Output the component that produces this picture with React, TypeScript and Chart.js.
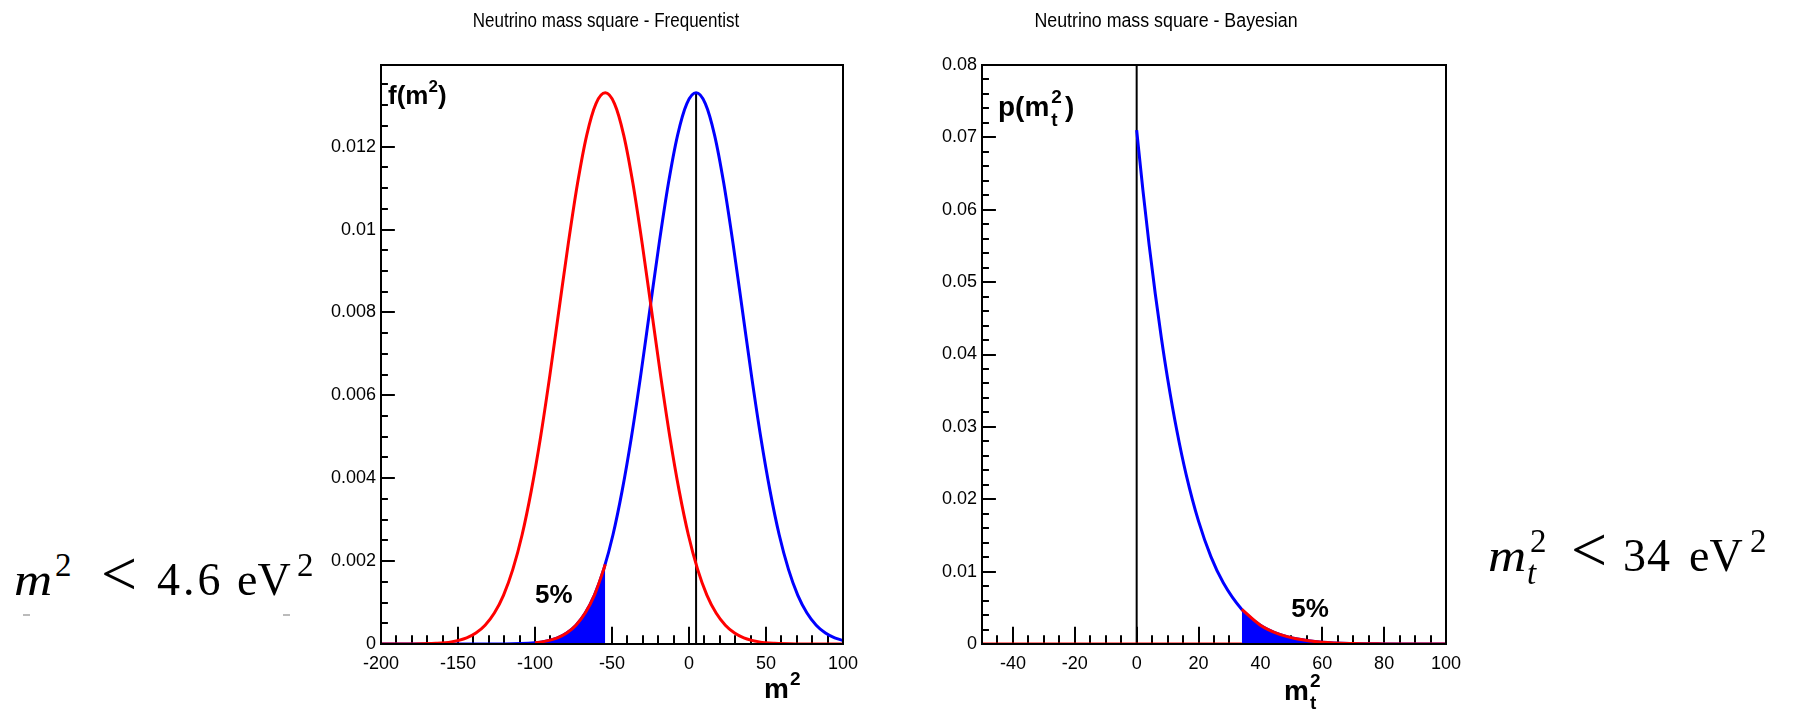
import React, { useEffect, useRef } from 'react';
import { Chart, registerables } from 'chart.js';

Chart.register(...registerables);

const SANS = '"Liberation Sans", Arial, Helvetica, sans-serif';
const SERIF = '"Liberation Serif", "Times New Roman", serif';

// ---------------- Frequentist panel ----------------
const freqXTicks = [-200, -150, -100, -50, 0, 50, 100];
const freqXLabels = ['-200', '-150', '-100', '-50', '0', '50', '100'];
const freqYTicks = [0, 0.002, 0.004, 0.006, 0.008, 0.01, 0.012];
const freqYLabels = ['0', '0.002', '0.004', '0.006', '0.008', '0.01', '0.012'];

// blue curve: pdf centred on the upper limit
const freqBlueX = [-200, -150, -120, -100, -95.4, -85.4, -79.4, -73.4, -67.4, -61.4, -55.4, -49.4, -43.4, -37.4, -31.4, -25.4, -19.4, -13.4, -7.4, -1.4, 4.6, 10.6, 16.6, 22.6, 28.6, 34.6, 40.6, 46.6, 52.6, 58.6, 64.6, 70.6, 76.6, 82.6, 88.6, 94.6, 100];
const freqBlueY = [0, 0, 0.0000024, 0.0000305, 0.0000513, 0.000148, 0.000264, 0.000453, 0.000747, 0.00118, 0.0018, 0.00263, 0.0037, 0.00499, 0.00647, 0.00807, 0.00966, 0.01111, 0.01228, 0.01304, 0.0133, 0.01304, 0.01228, 0.01111, 0.00966, 0.00807, 0.00647, 0.00499, 0.0037, 0.00263, 0.0018, 0.00118, 0.000747, 0.000453, 0.000264, 0.000148, 0.0000847];

// red curve: pdf centred on the measured value
const freqRedX = [-200, -179.4, -164.4, -154.4, -144.4, -138.4, -132.4, -126.4, -120.4, -114.4, -108.4, -102.4, -96.4, -90.4, -84.4, -78.4, -72.4, -66.4, -60.4, -54.4, -48.4, -42.4, -36.4, -30.4, -24.4, -18.4, -12.4, -6.4, -0.4, 5.6, 11.6, 17.6, 23.6, 29.6, 35.6, 45.6, 55.6, 70.6, 90.6, 100];
const freqRedY = [0, 0.0000023, 0.0000161, 0.0000513, 0.000148, 0.000264, 0.000453, 0.000747, 0.00118, 0.0018, 0.00263, 0.0037, 0.00499, 0.00647, 0.00807, 0.00966, 0.01111, 0.01228, 0.01304, 0.0133, 0.01304, 0.01228, 0.01111, 0.00966, 0.00807, 0.00647, 0.00499, 0.0037, 0.00263, 0.0018, 0.00118, 0.000747, 0.000453, 0.000264, 0.000148, 0.0000513, 0.0000161, 0.0000023, 0.0000001, 0];

// shaded 5% tail of the blue curve
const freqFillX = [-100, -95.4, -85.4, -79.4, -73.4, -67.4, -61.4, -55.4, -54.4];
const freqFillY = [0.0000305, 0.0000513, 0.000148, 0.000264, 0.000453, 0.000747, 0.00118, 0.0018, 0.00192];

const freqLineX = [4.6, 4.6];
const freqLineY = [0, 0.0133];

// ---------------- Bayesian panel ----------------
const bayesXTicks = [-40, -20, 0, 20, 40, 60, 80, 100];
const bayesXLabels = ['-40', '-20', '0', '20', '40', '60', '80', '100'];
const bayesYTicks = [0, 0.01, 0.02, 0.03, 0.04, 0.05, 0.06, 0.07, 0.08];
const bayesYLabels = ['0', '0.01', '0.02', '0.03', '0.04', '0.05', '0.06', '0.07', '0.08'];

const bayesPostX = [0, 2, 4, 6, 8, 10, 13, 16, 20, 24, 28, 34, 40, 46, 52, 60, 70, 80, 90, 100];
const bayesPostY = [0.071, 0.06278, 0.05526, 0.04842, 0.04225, 0.0367, 0.02946, 0.02341, 0.01697, 0.01208, 0.00846, 0.00478, 0.0026, 0.00136, 0.000682, 0.000255, 0.0000678, 0.0000161, 0.0000034, 0.0000006];

const bayesTailX = [34, 40, 46, 52, 60, 70, 80, 90, 100];
const bayesTailY = [0.00478, 0.0026, 0.00136, 0.000682, 0.000255, 0.0000678, 0.0000161, 0.0000034, 0.0000006];

const bayesZeroX = [-50, 34];
const bayesZeroY = [0, 0];

const bayesLineX = [0, 0];
const bayesLineY = [0, 0.08];

const toPts = (xs: number[], ys: number[]) => xs.map((x, i) => ({ x, y: ys[i] }));

interface RichPart { t: string; size: number; dy?: number; stack?: boolean; gap?: number }
interface Deco {
  title: string;
  titleX: number;
  titleY: number;
  titleSize: number;
  titleScale: number;
  xMin: number; xMax: number; xMinorStep: number;
  yMin: number; yMax: number; yMinorStep: number;
  xMajor: number[]; yMajor: number[];
  yLabel: { x: number; y: number; parts: RichPart[] };
  xLabel: { x: number; y: number; parts: RichPart[] };
  note: { x: number; y: number; text: string };
}

function drawRich(ctx: CanvasRenderingContext2D, x: number, y: number, parts: RichPart[]) {
  let cx = x;
  let stackStart = x;
  let stackW = 0;
  ctx.textAlign = 'left';
  ctx.textBaseline = 'alphabetic';
  for (const p of parts) {
    ctx.font = `bold ${p.size}px ${SANS}`;
    const w = ctx.measureText(p.t).width;
    if (p.stack) {
      ctx.fillText(p.t, stackStart, y + (p.dy || 0));
      stackW = Math.max(stackW, w);
      cx = stackStart + stackW;
    } else {
      cx += p.gap || 0;
      ctx.fillText(p.t, cx, y + (p.dy || 0));
      stackStart = cx;
      stackW = w;
      cx += w;
    }
  }
}

function rootPlugin(d: Deco) {
  return {
    id: 'rootStyle',
    beforeDatasetsDraw(chart: any) {
      const { ctx, chartArea: a, scales } = chart;
      const xs = scales.x;
      const ys = scales.y;
      const xMajLen = 0.03 * (a.bottom - a.top);
      const yMajLen = 0.03 * (a.right - a.left);
      ctx.save();
      ctx.strokeStyle = '#000';
      ctx.lineWidth = 2;
      ctx.beginPath();
      const nx = Math.round((d.xMax - d.xMin) / d.xMinorStep);
      for (let i = 0; i <= nx; i++) {
        const v = d.xMin + i * d.xMinorStep;
        const isMajor = d.xMajor.some((m) => Math.abs(m - v) < 1e-9);
        const px = Math.round(xs.getPixelForValue(v));
        ctx.moveTo(px, a.bottom);
        ctx.lineTo(px, a.bottom - (isMajor ? xMajLen : xMajLen / 2));
      }
      const ny = Math.floor((d.yMax - d.yMin) / d.yMinorStep + 1e-6);
      for (let i = 0; i <= ny; i++) {
        const v = d.yMin + i * d.yMinorStep;
        const isMajor = d.yMajor.some((m) => Math.abs(m - v) < 1e-9);
        const py = Math.round(ys.getPixelForValue(v));
        ctx.moveTo(a.left, py);
        ctx.lineTo(a.left + (isMajor ? yMajLen : yMajLen / 2), py);
      }
      ctx.stroke();
      ctx.restore();
    },
    afterDatasetsDraw(chart: any) {
      const { ctx, chartArea: a } = chart;
      ctx.save();
      ctx.strokeStyle = '#000';
      ctx.lineWidth = 2;
      ctx.strokeRect(a.left, a.top, a.right - a.left, a.bottom - a.top);
      ctx.restore();
    },
    afterDraw(chart: any) {
      const { ctx, scales } = chart;
      ctx.save();
      ctx.fillStyle = '#000';
      ctx.save();
      ctx.font = `${d.titleSize}px ${SANS}`;
      ctx.textAlign = 'center';
      ctx.textBaseline = 'alphabetic';
      ctx.translate(d.titleX, d.titleY);
      ctx.scale(d.titleScale, 1);
      ctx.fillText(d.title, 0, 0);
      ctx.restore();
      drawRich(ctx, d.yLabel.x, d.yLabel.y, d.yLabel.parts);
      drawRich(ctx, d.xLabel.x, d.xLabel.y, d.xLabel.parts);
      ctx.font = `bold 26px ${SANS}`;
      ctx.textAlign = 'left';
      ctx.textBaseline = 'alphabetic';
      ctx.fillText(d.note.text, scales.x.getPixelForValue(d.note.x), scales.y.getPixelForValue(d.note.y));
      ctx.restore();
    },
  };
}

function lineDs(data: any[], color: string, order: number, width = 3, extra: any = {}) {
  return {
    data,
    borderColor: color,
    backgroundColor: color,
    borderWidth: width,
    pointRadius: 0,
    pointHoverRadius: 0,
    cubicInterpolationMode: 'monotone',
    fill: false,
    order,
    ...extra,
  };
}

function makeConfig(opts: {
  datasets: any[];
  xMin: number; xMax: number; yMin: number; yMax: number;
  xTicks: number[]; xLabels: string[]; yTicks: number[]; yLabels: string[];
  yWidth: number; padRight: number; deco: Deco;
}) {
  const font = { family: SANS, size: 18 };
  return {
    type: 'line',
    data: { datasets: opts.datasets },
    options: {
      animation: false,
      responsive: false,
      devicePixelRatio: 1,
      events: [],
      layout: { padding: { left: 0, right: opts.padRight, top: 65, bottom: 18 } },
      plugins: { legend: { display: false }, title: { display: false }, tooltip: { enabled: false } },
      scales: {
        x: {
          type: 'linear',
          min: opts.xMin,
          max: opts.xMax,
          grid: { display: false, drawTicks: false },
          border: { display: false },
          ticks: {
            font,
            color: '#000',
            padding: 9,
            maxRotation: 0,
            autoSkip: false,
            callback: (_v: any, i: number) => opts.xLabels[i],
          },
          afterBuildTicks: (s: any) => { s.ticks = opts.xTicks.map((v) => ({ value: v })); },
          afterFit: (s: any) => { s.height = 50; },
        },
        y: {
          type: 'linear',
          min: opts.yMin,
          max: opts.yMax,
          grid: { display: false, drawTicks: false },
          border: { display: false },
          ticks: {
            font,
            color: '#000',
            padding: 5,
            autoSkip: false,
            callback: (_v: any, i: number) => opts.yLabels[i],
          },
          afterBuildTicks: (s: any) => { s.ticks = opts.yTicks.map((v) => ({ value: v })); },
          afterFit: (s: any) => { s.width = opts.yWidth; },
        },
      },
    },
    plugins: [rootPlugin(opts.deco)],
  } as any;
}

const freqDeco: Deco = {
  title: 'Neutrino mass square - Frequentist',
  titleX: 316,
  titleY: 27,
  titleSize: 20,
  titleScale: 0.85,
  xMin: -200, xMax: 100, xMinorStep: 10,
  yMin: 0, yMax: 0.01397, yMinorStep: 0.0005,
  xMajor: freqXTicks,
  yMajor: freqYTicks,
  yLabel: { x: 98, y: 104, parts: [{ t: 'f(m', size: 26 }, { t: '2', size: 17, dy: -12 }, { t: ')', size: 26 }] },
  xLabel: { x: 474, y: 698, parts: [{ t: 'm', size: 28 }, { t: '2', size: 19, dy: -13, gap: 1 }] },
  note: { x: -100, y: 0.001, text: '5%' },
};

const bayesDeco: Deco = {
  title: 'Neutrino mass square - Bayesian',
  titleX: 266,
  titleY: 27,
  titleSize: 20,
  titleScale: 0.89,
  xMin: -50, xMax: 100, xMinorStep: 5,
  yMin: 0, yMax: 0.08, yMinorStep: 0.002,
  xMajor: bayesXTicks,
  yMajor: bayesYTicks,
  yLabel: { x: 98, y: 116, parts: [{ t: 'p(m', size: 28 }, { t: '2', size: 19, dy: -13, gap: 2 }, { t: 't', size: 19, dy: 10, stack: true }, { t: ')', size: 28, gap: 3 }] },
  xLabel: { x: 384, y: 700, parts: [{ t: 'm', size: 28 }, { t: '2', size: 19, dy: -13, gap: 1 }, { t: 't', size: 19, dy: 9, stack: true }] },
  note: { x: 50, y: 0.0037, text: '5%' },
};

const Tok = ({ x, base, size, italic, spacing, sx, children }: any) => (
  <span
    style={{
      position: 'absolute',
      left: x,
      top: base - 0.8375 * size,
      fontFamily: SERIF,
      fontSize: size,
      lineHeight: `${size}px`,
      fontStyle: italic ? 'italic' : 'normal',
      letterSpacing: spacing || 0,
      whiteSpace: 'nowrap',
      color: '#000',
      transform: sx ? `scaleX(${sx})` : undefined,
      transformOrigin: 'left center',
    }}
  >
    {children}
  </span>
);

export default function App() {
  const leftRef = useRef<HTMLCanvasElement>(null);
  const rightRef = useRef<HTMLCanvasElement>(null);

  useEffect(() => {
    const left = new Chart(
      leftRef.current as HTMLCanvasElement,
      makeConfig({
        datasets: [
          lineDs(toPts(freqFillX, freqFillY), '#ff0000', 0, 3, { fill: 'origin', backgroundColor: '#0000ff' }),
          lineDs(toPts(freqRedX, freqRedY), '#ff0000', 1),
          lineDs(toPts(freqBlueX, freqBlueY), '#0000ff', 2),
          lineDs(toPts(freqLineX, freqLineY), '#000000', 3, 2, { cubicInterpolationMode: 'default', tension: 0 }),
        ],
        xMin: -200, xMax: 100, yMin: 0, yMax: 0.01397,
        xTicks: freqXTicks, xLabels: freqXLabels, yTicks: freqYTicks, yLabels: freqYLabels,
        yWidth: 91, padRight: 47, deco: freqDeco,
      })
    );
    const right = new Chart(
      rightRef.current as HTMLCanvasElement,
      makeConfig({
        datasets: [
          lineDs(toPts(bayesTailX, bayesTailY), '#ff0000', 0, 3, { fill: 'origin', backgroundColor: '#0000ff' }),
          lineDs(toPts(bayesZeroX, bayesZeroY), '#ff0000', 1, 3, { cubicInterpolationMode: 'default', tension: 0 }),
          lineDs(toPts(bayesPostX, bayesPostY), '#0000ff', 2),
          lineDs(toPts(bayesLineX, bayesLineY), '#000000', 3, 2, { cubicInterpolationMode: 'default', tension: 0 }),
        ],
        xMin: -50, xMax: 100, yMin: 0, yMax: 0.08,
        xTicks: bayesXTicks, xLabels: bayesXLabels, yTicks: bayesYTicks, yLabels: bayesYLabels,
        yWidth: 82, padRight: 54, deco: bayesDeco,
      })
    );
    return () => {
      left.destroy();
      right.destroy();
    };
  }, []);

  return (
    <div style={{ position: 'absolute', left: 0, top: 0, width: 1798, height: 712, background: '#fff', overflow: 'hidden' }}>
      <canvas ref={leftRef} width={600} height={712} style={{ position: 'absolute', left: 290, top: 0 }} />
      <canvas ref={rightRef} width={600} height={712} style={{ position: 'absolute', left: 900, top: 0 }} />

      {/* m^2 < 4.6 eV^2 */}
      <Tok x={14} base={596} size={46} italic sx={1.15}>m</Tok>
      <Tok x={55} base={577} size={33}>2</Tok>
      <Tok x={101} base={596} size={64}>&lt;</Tok>
      <Tok x={157} base={596} size={46} spacing={3}>4.6</Tok>
      <Tok x={237} base={596} size={46}>eV</Tok>
      <Tok x={297} base={577} size={33}>2</Tok>
      <div style={{ position: 'absolute', left: 23, top: 614, width: 7, height: 2, background: '#bbb' }} />
      <div style={{ position: 'absolute', left: 283, top: 614, width: 7, height: 2, background: '#bbb' }} />

      {/* m_t^2 < 34 eV^2 */}
      <Tok x={1488} base={572} size={46} italic sx={1.15}>m</Tok>
      <Tok x={1530} base={553} size={33}>2</Tok>
      <Tok x={1527} base={585} size={33} italic>t</Tok>
      <Tok x={1571} base={572} size={64}>&lt;</Tok>
      <Tok x={1623} base={572} size={46} spacing={1}>34</Tok>
      <Tok x={1689} base={572} size={46}>eV</Tok>
      <Tok x={1750} base={553} size={33}>2</Tok>
    </div>
  );
}
